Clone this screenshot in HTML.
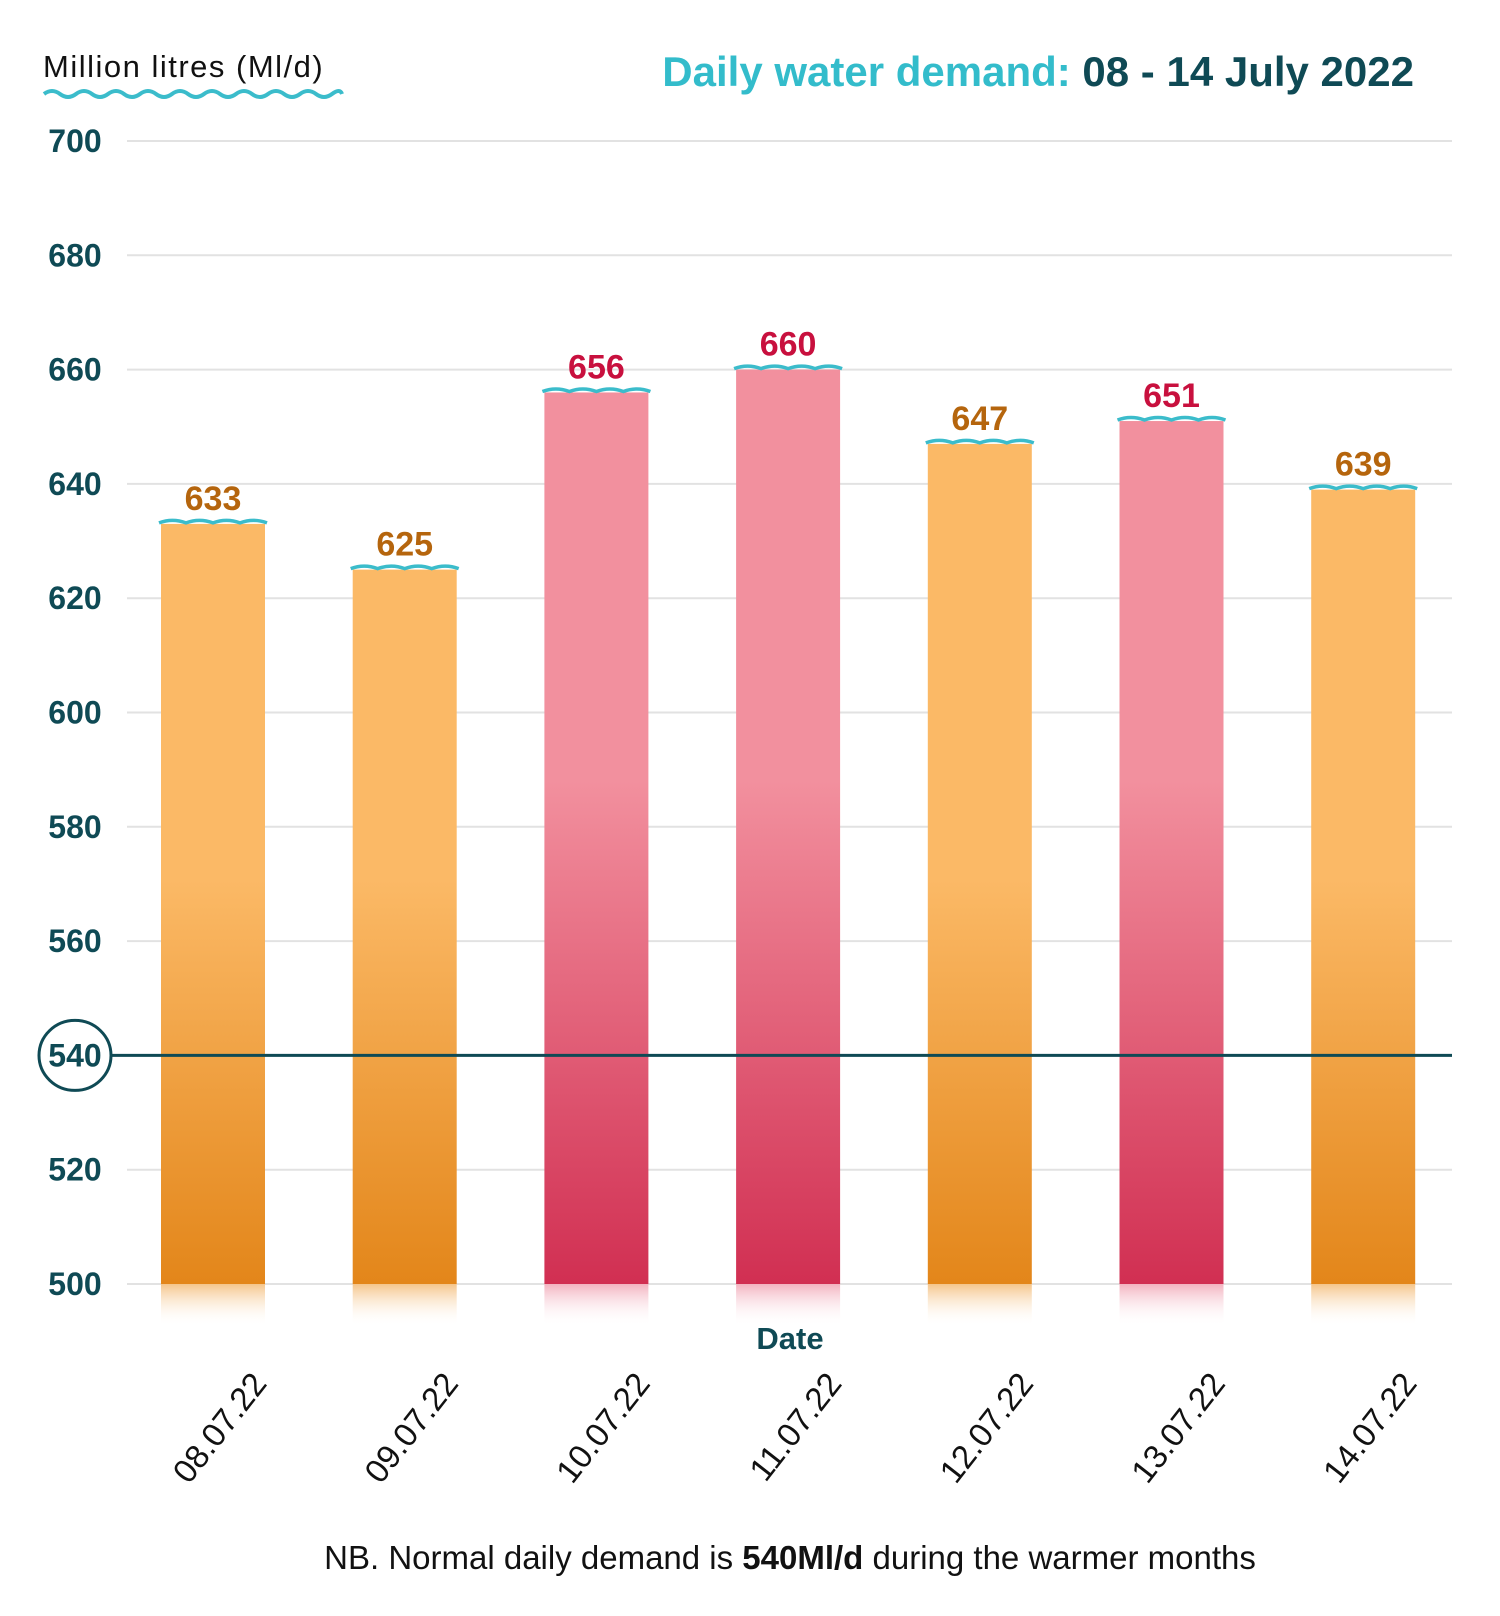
<!DOCTYPE html>
<html><head><meta charset="utf-8"><style>
html,body{margin:0;padding:0;background:#fff;}
svg{display:block;font-family:"Liberation Sans",sans-serif;}
</style></head><body>
<svg id="chart" width="1500" height="1616" viewBox="0 0 1500 1616">
<defs>
<linearGradient id="gO" gradientUnits="userSpaceOnUse" x1="0" y1="880" x2="0" y2="1284"><stop offset="0" stop-color="#fbb966"/><stop offset="1" stop-color="#e3861a"/></linearGradient>
<linearGradient id="gP" gradientUnits="userSpaceOnUse" x1="0" y1="780" x2="0" y2="1284"><stop offset="0" stop-color="#f2909e"/><stop offset="1" stop-color="#d12f52"/></linearGradient>
<linearGradient id="rO" x1="0" y1="0" x2="0" y2="1"><stop offset="0" stop-color="#f5c58a"/><stop offset="1" stop-color="#fff" stop-opacity="0"/></linearGradient>
<linearGradient id="rP" x1="0" y1="0" x2="0" y2="1"><stop offset="0" stop-color="#f3b3c0"/><stop offset="1" stop-color="#fff" stop-opacity="0"/></linearGradient>
</defs>
<text x="43" y="77" font-size="31" letter-spacing="1.5" fill="#111">Million litres (Ml/d)</text>
<path d="M44 94 q8 -6 16 0 t16 0 t16 0 t16 0 t16 0 t16 0 t16 0 t16 0 t16 0 t16 0 t16 0 t16 0 t16 0 t16 0 t16 0 t16 0 t16 0 t16 0 t10 0" fill="none" stroke="#3bbccb" stroke-width="4"/>
<text x="1414" y="86" text-anchor="end" font-size="42" font-weight="bold"><tspan fill="#33bccb">Daily water demand: </tspan><tspan fill="#0f4a55">08 - 14 July 2022</tspan></text>
<g id="grid"></g>
<g id="bars"></g>
<text x="790" y="1349" text-anchor="middle" font-size="31" font-weight="bold" fill="#0f4a55">Date</text>
<text x="790" y="1569" text-anchor="middle" font-size="33" fill="#111">NB. Normal daily demand is <tspan font-weight="bold">540Ml/d</tspan> during the warmer months</text>
</svg>
<script>
const categories = ["08.07.22","09.07.22","10.07.22","11.07.22","12.07.22","13.07.22","14.07.22"];
const values = [633,625,656,660,647,651,639];
const highlight = [false,false,true,true,false,true,false];
const ticks = [500,520,540,560,580,600,620,640,660,680,700];
const normalDemand = 540;

const NS="http://www.w3.org/2000/svg";
const yMin=500,yMax=700,yTop=141,yBot=1284;
function y(v){return yBot-(v-yMin)/(yMax-yMin)*(yBot-yTop);}
const x0=213,step=191.7,bw=104;
function x(i){return x0+i*step;}
function mk(t,a,p){const e=document.createElementNS(NS,t);for(const k in a)e.setAttribute(k,a[k]);(p||document.getElementById('chart')).appendChild(e);return e;}
const grid=document.getElementById('grid'),bars=document.getElementById('bars');
ticks.forEach(t=>{
  const yy=y(t);
  if(t!==normalDemand){
    const l=mk('line',{x1:127,x2:1452,y1:yy,y2:yy,stroke:'#e2e2e2','stroke-width':2},grid);
    
    
  }
  const tx=mk('text',{x:75,y:yy+11,'text-anchor':'middle','font-size':32,'font-weight':'bold',fill:'#0f4a55'},grid);
  tx.textContent=t;
  
  
});
values.forEach((v,i)=>{
  const cx=x(i),top=y(v),hl=highlight[i];
  const r=mk('rect',{x:cx-bw/2,y:top,width:bw,height:yBot-top,fill:hl?'url(#gP)':'url(#gO)'},bars);
  
  
  const rf=mk('rect',{x:cx-bw/2,y:yBot,width:bw,height:42,fill:hl?'url(#rP)':'url(#rO)'},bars);
  
  
  let d='M'+(cx-bw/2-2)+' '+(top-1);
  for(let k=0;k<4;k++){d+=' q'+(bw+4)/8+' -5 '+(bw+4)/4+' 0';}
  const w=mk('path',{d:d,fill:'none',stroke:'#3bbccb','stroke-width':3.5},bars);
  
  
  const lb=mk('text',{x:cx,y:top-14,'text-anchor':'middle','font-size':34,'font-weight':'bold',fill:hl?'#c8103e':'#b5650d'},bars);
  lb.textContent=v;
  
  
  const dl=mk('text',{x:0,y:0,'text-anchor':'end','font-size':33,fill:'#111',transform:'translate('+(cx+55)+',1384) rotate(-52)'},bars);
  dl.textContent=categories[i];
  
  
});
const ny=y(normalDemand);
const nl=mk('line',{x1:111,x2:1452,y1:ny,y2:ny,stroke:'#0f4a55','stroke-width':3});


const ce=mk('ellipse',{cx:75,cy:ny,rx:36,ry:35,fill:'none',stroke:'#0f4a55','stroke-width':3});


</script>
</body></html>
